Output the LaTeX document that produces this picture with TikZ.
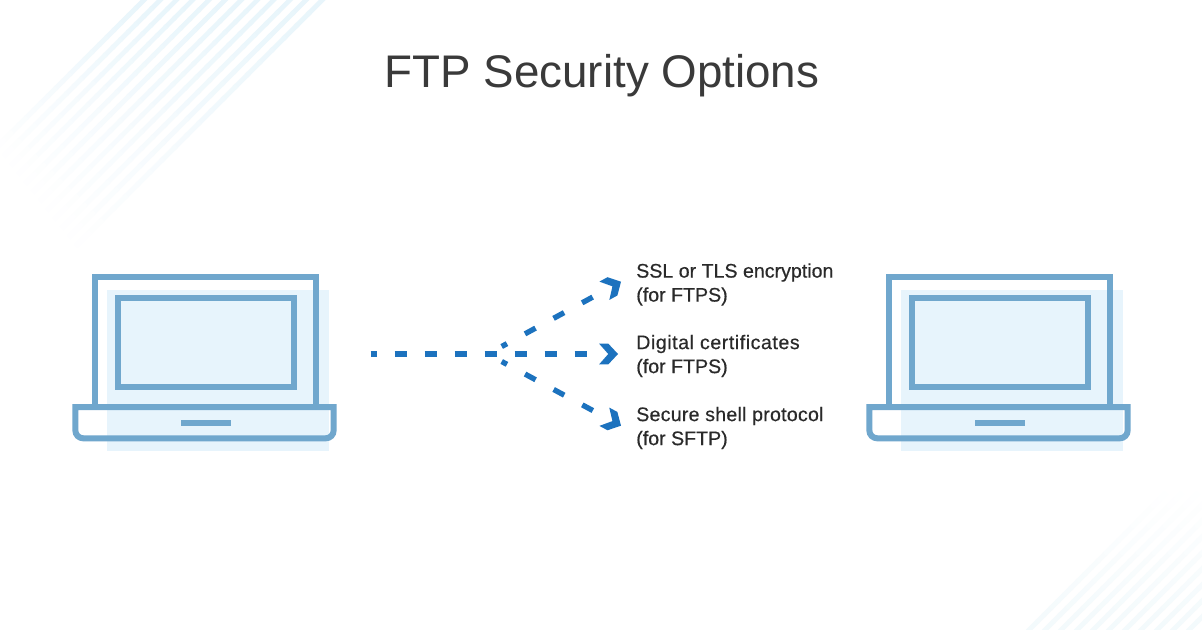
\documentclass[tikz,border=0pt]{standalone}
\usepackage{fontspec}
\setmainfont{Liberation Sans}
\newfontfamily\lblfont[FakeBold=0.4]{Liberation Sans}
\usetikzlibrary{arrows.meta}
\definecolor{frameblue}{HTML}{70A7CD}
\definecolor{paleblue}{HTML}{E7F4FC}
\definecolor{arrowblue}{HTML}{1C72BE}
\definecolor{titlegrey}{HTML}{3A3A3A}
\definecolor{labelgrey}{HTML}{2A2A2A}
\definecolor{stripeA}{HTML}{E8F5FB}
\definecolor{stripeB}{HTML}{F3FAFC}
\pgfdeclarearrow{
  name=Chev,
  setup code={
    \pgfarrowssettipend{0pt}
    \pgfarrowssetlineend{-14pt}
    \pgfarrowssetvisualbackend{-14pt}
  },
  drawing code={
    \pgfpathmoveto{\pgfqpoint{0pt}{0pt}}
    \pgfpathlineto{\pgfqpoint{-7.3pt}{7.8pt}}
    \pgfpathlineto{\pgfqpoint{-14.2pt}{7.8pt}}
    \pgfpathlineto{\pgfqpoint{-7.3pt}{0pt}}
    \pgfpathlineto{\pgfqpoint{-14.2pt}{-7.8pt}}
    \pgfpathlineto{\pgfqpoint{-7.3pt}{-7.8pt}}
    \pgfpathclose
    \pgfusepathqfill
  }
}
\tikzset{
  stripeTL/.style={line width=3.5pt},
  stripeBR/.style={line width=3.5pt},
  frame/.style={draw=frameblue,line width=4.5pt,miter limit=10},
  conn/.style={draw=arrowblue,line width=4pt},
  trunkdash/.style={dash pattern=on 9pt off 13.5pt,dash phase=4.5pt},
  branchdash/.style={dash pattern=on 9pt off 15.375pt,dash phase=4.5pt},
  optlabel/.style={anchor=west,align=left,inner sep=0pt,text=labelgrey,
    font=\lblfont\fontsize{14.7}{18}\selectfont},
  laptop/.pic={
    \fill[paleblue] (107,290) rectangle (329,450.7);
    \path[frame] (95,407) -- (95,277.3) -- (316.4,277.3) -- (316.4,407);
    \path[frame] (118,298) rectangle (293.7,387);
    \path[frame] (75.3,407) -- (333.7,407) -- (333.7,430)
      .. controls (333.7,435) and (330,438.3) .. (325.7,438.3)
      -- (83.3,438.3)
      .. controls (79,438.3) and (75.3,435) .. (75.3,430) -- cycle;
    \fill[frameblue] (180.7,420.3) rectangle (231,426.3);
  }
}
\begin{document}
\begin{tikzpicture}[x=0.75pt,y=-0.75pt]
\useasboundingbox (0,0) rectangle (1202,629);
\fill[white] (0,0) rectangle (1202,629);
\begin{scope}
\clip (0,0) rectangle (1202,629);
\foreach \k in {0,...,11}{
  \pgfmathsetmacro{\xs}{144+16.2*\k}
  \pgfmathsetmacro{\len}{146+8.9*\k}
  \foreach \i in {0,...,19}{
    \pgfmathsetmacro{\sa}{\i/20*\len-(\i==0)*8}
    \pgfmathsetmacro{\sb}{(\i+1.2)/20*\len}
    \pgfmathsetmacro{\mixv}{100-5*\i}
    \draw[stripeTL,stripeA!\mixv!white] (\xs-\sa,\sa) -- (\xs-\sb,\sb);
  }
}
\foreach \k in {0,...,11}{
  \pgfmathsetmacro{\xs}{1030+16*\k}
  \foreach \i in {0,...,19}{
    \pgfmathsetmacro{\sa}{\i/20*135-(\i==0)*8}
    \pgfmathsetmacro{\sb}{(\i+1.2)/20*135}
    \pgfmathsetmacro{\mixv}{100-5*\i}
    \draw[stripeBR,stripeB!\mixv!white] (\xs+\sa,629-\sa) -- (\xs+\sb,629-\sb);
  }
}
\end{scope}

\node[anchor=base,inner sep=0pt,text=titlegrey,font=\fontsize{34.3}{40}\selectfont] (title) at (602,87) {FTP Security Options};

\pic (laptopL) at (0,0) {laptop};
\pic (laptopR) at (794,0) {laptop};

\coordinate (start) at (370.5,354);
\coordinate (hubU) at (501.7,346.5);
\coordinate (hubD) at (501.7,361.5);
\coordinate (tipU) at (621,281.7);
\coordinate (tipM) at (618,354);
\coordinate (tipD) at (621,425.7);

\draw[conn,trunkdash,arrowblue,-{Chev}] (start) -- (tipM);
\draw[conn,branchdash,arrowblue,-{Chev}] (hubU) -- (tipU);
\draw[conn,branchdash,arrowblue,-{Chev}] (hubD) -- (tipD);

\node[optlabel] (optA) at (636,284.5) {SSL or TLS encryption\\(for FTPS)};
\node[optlabel] (optB) at (636,356) {{\addfontfeature{LetterSpace=2.8}Digital certificates}\\(for FTPS)};
\node[optlabel] (optC) at (636,428) {{\addfontfeature{LetterSpace=1.2}Secure shell protocol}\\(for SFTP)};
\end{tikzpicture}
\end{document}
